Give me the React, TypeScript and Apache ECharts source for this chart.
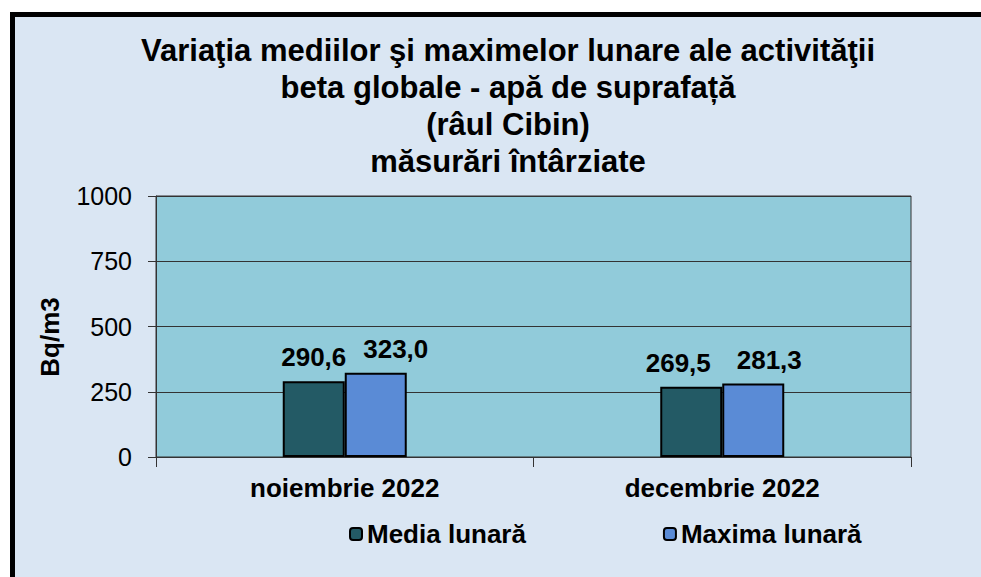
import React, { useEffect, useRef } from "react";
import * as echarts from "echarts";

const categories = ["noiembrie 2022", "decembrie 2022"];
const mediaLunara = [290.6, 269.5];
const maximaLunara = [323.0, 281.3];
const seriesNames = ["Media lunară", "Maxima lunară"];
const titleLines = [
  "Variaţia mediilor şi maximelor lunare ale activităţii",
  "beta globale - apă de suprafață",
  "(râul Cibin)",
  "măsurări întârziate",
];
const yAxisName = "Bq/m3";

// horizontal nudges of the value labels (as placed in the original)
const mediaLabelShift = [0, -13];
const maximaLabelShift = [20, 16];

const FONT = "'Liberation Sans', Arial, sans-serif";

export default function App() {
  const ref = useRef<HTMLDivElement>(null);
  useEffect(() => {
    if (!ref.current) return;
    const chart = echarts.init(ref.current, null, { renderer: "svg" });
    const fmt = (p: any) => Number(p.value).toFixed(1).replace(".", ",");
    const barLabel = {
      show: true,
      position: "top",
      distance: 11,
      formatter: fmt,
      fontFamily: FONT,
      fontSize: 26,
      fontWeight: "bold",
      color: "#000",
    };
    const withShift = (vals: number[], shifts: number[]) =>
      vals.map((v, i) => ({ value: v, label: { offset: [shifts[i], 0] } }));
    chart.setOption({
      animation: false,
      textStyle: { fontFamily: FONT },
      graphic: [
        {
          type: "rect",
          z: -10,
          silent: true,
          shape: { x: 10, y: 12, width: 971, height: 565 },
          style: { fill: "#dae6f3" },
        },
        {
          type: "rect",
          z: -9,
          silent: true,
          shape: { x: 10, y: 12, width: 971, height: 5 },
          style: { fill: "#000" },
        },
        {
          type: "rect",
          z: -9,
          silent: true,
          shape: { x: 10, y: 12, width: 5, height: 565 },
          style: { fill: "#000" },
        },
        {
          type: "text",
          x: 50,
          y: 337,
          rotation: Math.PI / 2,
          style: {
            text: yAxisName,
            fill: "#000",
            font: `bold 26px ${FONT}`,
            textAlign: "center",
            textVerticalAlign: "middle",
          },
        },
      ],
      title: {
        text: titleLines.join("\n"),
        left: 503,
        textAlign: "center",
        top: 27,
        textStyle: {
          fontFamily: FONT,
          fontSize: 31,
          fontWeight: "bold",
          color: "#000",
          lineHeight: 37,
        },
      },
      grid: {
        left: 156,
        right: 70,
        top: 196,
        bottom: 120,
        show: true,
        backgroundColor: "#91cbda",
        borderColor: "#333",
        borderWidth: 1,
      },
      legend: {
        data: seriesNames,
        left: 344,
        top: 516,
        itemWidth: 12,
        itemHeight: 12,
        itemGap: 137,
        textStyle: { fontFamily: FONT, fontSize: 26, fontWeight: "bold", color: "#000" },
      },
      xAxis: {
        type: "category",
        data: categories,
        axisLine: { lineStyle: { color: "#333", width: 1 } },
        axisTick: { show: true, length: 10, lineStyle: { color: "#333" } },
        axisLabel: {
          fontFamily: FONT,
          fontSize: 26,
          fontWeight: "bold",
          color: "#000",
          margin: 18,
        },
      },
      yAxis: {
        type: "value",
        min: 0,
        max: 1000,
        interval: 250,
        axisLine: { show: true, lineStyle: { color: "#333", width: 1 } },
        axisTick: { show: true, length: 8, lineStyle: { color: "#333" } },
        axisLabel: {
          fontFamily: FONT,
          fontSize: 25,
          color: "#000",
          margin: 24,
          formatter: (v: number) => String(v),
        },
        splitLine: { lineStyle: { color: "#333", width: 1 } },
      },
      series: [
        {
          name: seriesNames[0],
          type: "bar",
          data: withShift(mediaLunara, mediaLabelShift),
          barWidth: 62,
          barGap: "0%",
          itemStyle: { color: "#235a65", borderColor: "#000", borderWidth: 2 },
          label: barLabel,
        },
        {
          name: seriesNames[1],
          type: "bar",
          data: withShift(maximaLunara, maximaLabelShift),
          barWidth: 62,
          barGap: "0%",
          itemStyle: { color: "#5a8bd6", borderColor: "#000", borderWidth: 2 },
          label: barLabel,
        },
      ],
    });
    return () => chart.dispose();
  }, []);
  return (
    <div
      ref={ref}
      style={{ position: "fixed", left: 0, top: 0, width: 981, height: 577, background: "#fff" }}
    />
  );
}
